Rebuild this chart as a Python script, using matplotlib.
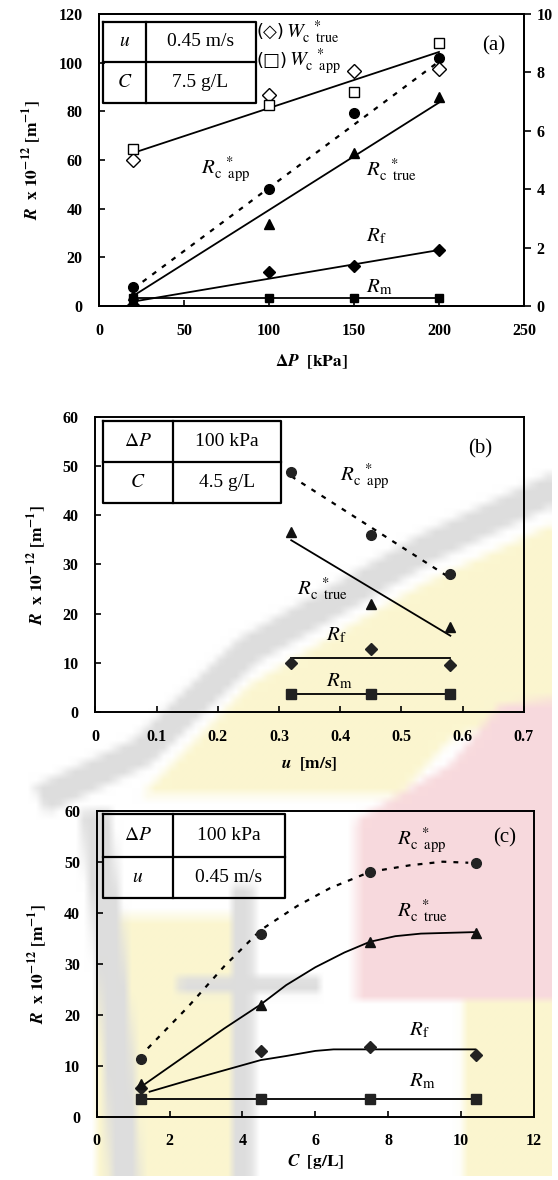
import matplotlib
matplotlib.use('Agg')
import numpy as np
import matplotlib.pyplot as plt
from matplotlib.lines import Line2D
from matplotlib.patches import Polygon

plt.rcParams['font.family'] = ['Liberation Serif', 'DejaVu Sans']
plt.rcParams['mathtext.fontset'] = 'stix'

# ---------------- (a) effect of transmembrane pressure ----------------
dp = [20, 100, 150, 200]
a_rc_app = [8.0, 48.1, 79.2, 102.1]
a_rc_true = [4.5, 33.9, 62.7, 85.7]
a_rf = [0.3, 13.9, 16.3, 22.9]
a_rm = [3.4, 3.4, 3.4, 3.4]
a_wc_true = [5.0, 7.23, 8.06, 8.1]
a_wc_app = [5.37, 6.89, 7.32, 9.01]
dp_fit = [20, 200]
a_rc_app_fit = [7.0, 100.5]
a_rc_true_fit = [4.1, 83.6]
a_rf_fit = [1.8, 23.0]
a_rm_fit = [3.4, 3.4]
a_wc_fit = [5.24, 8.70]

# ---------------- (b) effect of cross-flow velocity ----------------
u = [0.32, 0.45, 0.58]
b_rc_app = [48.7, 35.9, 28.0]
b_rc_true = [36.6, 21.9, 17.2]
b_rf = [10.0, 12.9, 9.6]
b_rm = [3.6, 3.6, 3.6]
u_fit = [0.32, 0.58]
b_rc_app_fit = [47.9, 27.2]
b_rc_true_fit = [34.9, 15.5]
b_rf_fit = [10.9, 10.9]
b_rm_fit = [3.6, 3.6]

# ---------------- (c) effect of feed concentration ----------------
conc = [1.2, 4.5, 7.5, 10.4]
c_rc_app = [11.4, 35.9, 48.0, 49.7]
c_rc_true = [6.4, 21.9, 34.2, 36.0]
c_rf = [5.6, 12.9, 13.7, 12.1]
c_rm = [3.4, 3.4, 3.4, 3.4]
c_app_curve_x = [1.4, 2.5, 3.5, 4.5, 5.5, 6.4, 7.5, 8.6, 9.5, 10.2]
c_app_curve_y = [13.4, 21.5, 29.5, 36.6, 41.3, 44.8, 48.0, 49.3, 50.0, 49.8]
c_true_curve_x = [1.2, 2.5, 3.5, 4.5, 5.2, 6.0, 6.8, 7.5, 8.2, 8.9, 10.4]
c_true_curve_y = [5.8, 12.3, 17.3, 22.0, 25.8, 29.3, 32.2, 34.3, 35.4, 35.9, 36.2]
c_rf_curve_x = [1.45, 2.5, 3.5, 4.5, 5.2, 6.0, 6.5, 7.5, 10.4]
c_rf_curve_y = [4.9, 7.1, 9.1, 11.1, 11.9, 12.9, 13.2, 13.2, 13.2]
c_rm_curve_x = [1.2, 10.4]
c_rm_curve_y = [3.4, 3.4]

W, H = 558, 1180
PINK, YEL, GRAY = '#f8dadd', '#fbf6d0', '#dddddd'


# ---- faint seal watermark, rendered separately and softened ----
def seal_image():
    wf = plt.figure(figsize=(W / 100, H / 100), dpi=100)
    wa = wf.add_axes([0, 0, 1, 1])
    wa.set_xlim(0, W)
    wa.set_ylim(H, 0)
    wa.axis('off')

    def blob(pts, color):
        wa.add_patch(Polygon(pts, closed=True, facecolor=color, edgecolor='none'))

    def band(center, half, color):
        p = np.array(center, dtype=float)
        d = np.gradient(p, axis=0)
        n = np.stack([-d[:, 1], d[:, 0]], axis=1)
        n /= np.linalg.norm(n, axis=1, keepdims=True)
        blob(np.vstack([p + half * n, (p - half * n)[::-1]]), color)

    blob([(142, 795), (249, 685), (356, 622), (427, 582), (558, 522),
          (558, 700), (450, 740), (400, 795)], YEL)
    blob([(500, 705), (558, 698), (558, 1000), (356, 1000), (356, 820), (450, 765)], PINK)
    blob([(463, 1000), (558, 1000), (558, 1180), (463, 1180)], YEL)
    blob([(96, 916), (250, 916), (250, 1180), (96, 1180)], YEL)
    band([(40, 800), (142, 752), (249, 650), (356, 589), (427, 548), (558, 487)], 15, GRAY)
    band([(95, 810), (108, 930), (118, 1050), (125, 1180)], 15, GRAY)
    blob([(232, 885), (254, 885), (254, 1180), (232, 1180)], GRAY)
    blob([(178, 977), (320, 977), (320, 993), (178, 993)], GRAY)
    wf.canvas.draw()
    img = np.asarray(wf.canvas.buffer_rgba())[..., :3].astype(float) / 255.0
    plt.close(wf)
    k = 8
    h2, w2 = img.shape[0] // k, img.shape[1] // k
    small = img[:h2 * k, :w2 * k].reshape(h2, k, w2, k, 3).mean(axis=(1, 3))
    return small, w2 * k, h2 * k


fig = plt.figure(figsize=(W / 100, H / 100), dpi=100)
bg = fig.add_axes([0, 0, 1, 1], zorder=-5)
seal, sw, sh = seal_image()
bg.imshow(seal, extent=(0, sw, sh, 0), interpolation='bilinear', aspect='auto')
bg.set_xlim(0, W)
bg.set_ylim(H, 0)
bg.axis('off')


def frac(x0, y0, x1, y1):
    return [x0 / W, 1 - y1 / H, (x1 - x0) / W, (y1 - y0) / H]


def fx(x):
    return x / W


def fy(y):
    return 1 - y / H


TICK_SIZE = 11.5
LBL = 15
LW = 1.3
DOT = (0, (2.2, 3.2))


def style_axes(ax):
    ax.set_facecolor('none')
    for s in ax.spines.values():
        s.set_linewidth(1.4)
    ax.tick_params(axis='both', direction='in', length=4.5, width=1.2,
                   top=False, right=False)
    ax.tick_params(axis='y', pad=12)
    ax.tick_params(axis='x', pad=12)
    for t in ax.get_xticklabels() + ax.get_yticklabels():
        t.set_fontsize(TICK_SIZE)
        t.set_fontweight('bold')


def table(x0, y0, x1, y1, xc, yr, cells):
    lw = 1.6

    def seg(xs, ys):
        fig.add_artist(Line2D([fx(v) for v in xs], [fy(v) for v in ys],
                              color='black', lw=lw, transform=fig.transFigure,
                              solid_capstyle='projecting'))
    seg([x0, x1, x1, x0, x0], [y0, y0, y1, y1, y0])
    seg([xc, xc], [y0, y1])
    seg([x0, x1], [yr, yr])
    for (lt, rt), yc in zip(cells, ((y0 + yr) / 2, (yr + y1) / 2)):
        fig.text(fx((x0 + xc) / 2), fy(yc), lt, ha='center', va='center', fontsize=14)
        fig.text(fx((xc + x1) / 2), fy(yc), rt, ha='center', va='center', fontsize=14)


ylab = r'$\mathbfit{R}\ \ \mathbf{x\ 10^{-12}\ [m^{-1}]}$'
R_APP = r'$R_{\mathrm{c\ \ app}}^{\ \ *}$'
R_TRUE = r'$R_{\mathrm{c\ \ true}}^{\ \ *}$'
R_F = r'$R_{\mathrm{f}}$'
R_M = r'$R_{\mathrm{m}}$'

# ---------------- panel (a) ----------------
ax = fig.add_axes(frac(99, 14, 524, 306))
ax.plot(dp_fit, a_rc_app_fit, color='black', lw=1.6, ls=DOT)
ax.plot(dp_fit, a_rc_true_fit, color='black', lw=LW)
ax.plot(dp_fit, a_rf_fit, color='black', lw=LW)
ax.plot(dp_fit, a_rm_fit, color='black', lw=LW)
ax.plot(dp, a_rc_app, 'o', color='black', ms=7)
ax.plot(dp, a_rc_true, '^', color='black', ms=7.5)
ax.plot(dp, a_rf, 'D', color='black', ms=6.5)
ax.plot(dp, a_rm, 's', color='black', ms=6)
ax.set_xlim(0, 250)
ax.set_ylim(0, 120)
ax.set_xticks([0, 50, 100, 150, 200, 250])
ax.set_yticks([0, 20, 40, 60, 80, 100, 120])
style_axes(ax)
ax.set_xlabel(r'$\mathbf{\Delta}\mathbfit{P}\ \ \mathbf{[kPa]}$', fontsize=12.5, labelpad=10)
ax.set_ylabel(ylab, fontsize=12.5, labelpad=10)
ax.text(60, 56, R_APP, fontsize=LBL, va='center')
ax.text(157, 56, R_TRUE, fontsize=LBL, va='center')
ax.text(157, 28.4, R_F, fontsize=LBL, va='center')
ax.text(157, 7.8, R_M, fontsize=LBL, va='center')
ax.text(232, 107, '(a)', fontsize=15, ha='center', va='center')
# open-symbol keys for the right axis
for sym, yk, sub in (('\u25c7', 112.5, 'true'), ('\u25a1', 100.5, 'app')):
    key = ax.text(92.5, yk, '(' + sym + ')', fontsize=13, va='center',
                  family=['DejaVu Sans'])
    ax.annotate(r'$W_{\mathrm{c\ \ %s}}^{\ \ *}$' % sub, xy=(1.0, 0.5),
                xycoords=key, xytext=(1, 0), textcoords='offset points',
                fontsize=14.5, ha='left', va='center')

ax2 = ax.twinx()
ax2.set_facecolor('none')
ax2.plot(dp_fit, a_wc_fit, color='black', lw=LW)
ax2.plot(dp, a_wc_true, 'D', mfc='white', mec='black', mew=1.0, ms=7.5)
ax2.plot(dp, a_wc_app, 's', mfc='white', mec='black', mew=1.0, ms=7)
ax2.set_ylim(0, 10)
ax2.set_yticks([0, 2, 4, 6, 8, 10])
ax2.tick_params(axis='y', direction='out', length=5, width=1.2, pad=4)
for t in ax2.get_yticklabels():
    t.set_fontsize(TICK_SIZE)
    t.set_fontweight('bold')
for s in ax2.spines.values():
    s.set_linewidth(1.4)
table(103, 21.7, 255.5, 103.3, 145.5, 62.3,
      [(r'$u$', '0.45 m/s'), (r'$C$', '7.5 g/L')])

# ---------------- panel (b) ----------------
bx = fig.add_axes(frac(95.4, 416.7, 523.8, 712))
bx.plot(u_fit, b_rc_app_fit, color='black', lw=1.6, ls=DOT)
bx.plot(u_fit, b_rc_true_fit, color='black', lw=LW)
bx.plot(u_fit, b_rf_fit, color='black', lw=LW)
bx.plot(u_fit, b_rm_fit, color='black', lw=LW)
bx.plot(u, b_rc_app, 'o', color='#222222', ms=7)
bx.plot(u, b_rc_true, '^', color='#111111', ms=7.5)
bx.plot(u, b_rf, 'D', color='#222222', ms=6.5)
bx.plot(u, b_rm, 's', color='#222222', ms=6.5)
bx.set_xlim(0, 0.7)
bx.set_ylim(0, 60)
bx.set_xticks([0, 0.1, 0.2, 0.3, 0.4, 0.5, 0.6, 0.7])
bx.set_xticklabels(['0', '0.1', '0.2', '0.3', '0.4', '0.5', '0.6', '0.7'])
bx.set_yticks([0, 10, 20, 30, 40, 50, 60])
style_axes(bx)
bx.set_xlabel(r'$\mathbfit{u}\ \ \mathbf{[m/s]}$', fontsize=12.5, labelpad=8)
bx.set_ylabel(ylab, fontsize=12.5, labelpad=10)
bx.text(0.40, 47.8, R_APP, fontsize=LBL, va='center')
bx.text(0.33, 25.1, R_TRUE, fontsize=LBL, va='center')
bx.text(0.376, 15.6, R_F, fontsize=LBL, va='center')
bx.text(0.376, 6.2, R_M, fontsize=LBL, va='center')
bx.text(0.628, 53.5, '(b)', fontsize=15, ha='center', va='center')
table(102.7, 420.7, 281, 502.7, 173.3, 462,
      [(r'$\Delta P$', '100 kPa'), (r'$C$', '4.5 g/L')])

# ---------------- panel (c) ----------------
cx = fig.add_axes(frac(96.8, 810.7, 533.8, 1116.7))
cx.plot(c_app_curve_x, c_app_curve_y, color='black', lw=1.6, ls=DOT)
cx.plot(c_true_curve_x, c_true_curve_y, color='black', lw=LW)
cx.plot(c_rf_curve_x, c_rf_curve_y, color='black', lw=LW)
cx.plot(c_rm_curve_x, c_rm_curve_y, color='black', lw=LW)
cx.plot(conc, c_rc_app, 'o', color='#222222', ms=7)
cx.plot(conc, c_rf, 'D', color='#222222', ms=6.5)
cx.plot(conc, c_rc_true, '^', color='#111111', ms=7.5)
cx.plot(conc, c_rm, 's', color='#222222', ms=6.5)
cx.set_xlim(0, 12)
cx.set_ylim(0, 60)
cx.set_xticks([0, 2, 4, 6, 8, 10, 12])
cx.set_yticks([0, 10, 20, 30, 40, 50, 60])
style_axes(cx)
cx.set_xlabel(r'$\mathbfit{C}\ \ \mathbf{[g/L]}$', fontsize=12.5, labelpad=2)
cx.set_ylabel(ylab, fontsize=12.5, labelpad=10)
cx.text(8.24, 54.2, R_APP, fontsize=LBL, va='center')
cx.text(8.24, 40.5, R_TRUE, fontsize=LBL, va='center')
cx.text(8.58, 17.0, R_F, fontsize=LBL, va='center')
cx.text(8.58, 6.9, R_M, fontsize=LBL, va='center')
cx.text(11.2, 54.6, '(c)', fontsize=15, ha='center', va='center')
table(102.5, 814.3, 284.7, 897.7, 173.3, 857.3,
      [(r'$\Delta P$', '100 kPa'), (r'$u$', '0.45 m/s')])

fig.savefig('out.png', dpi=100)
